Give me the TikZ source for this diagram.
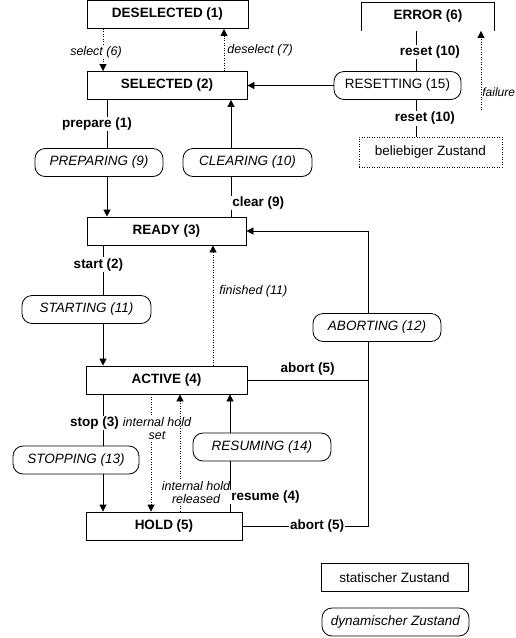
\documentclass[tikz,border=0pt]{standalone}
\usepackage{fontspec}
\setmainfont{Liberation Sans}
\usetikzlibrary{arrows.meta, positioning, calc}

\begin{document}
\begin{tikzpicture}[
    x=1pt, y=-1pt, line width=0.8pt,
    state/.style={draw, rectangle, minimum height=28pt, inner sep=0pt, font=\fontsize{13.5}{16}\selectfont\bfseries},
    dynstate/.style={draw, rectangle, rounded corners=10pt, minimum height=28pt, inner sep=0pt, font=\fontsize{13.5}{16}\selectfont\itshape},
    trans/.style={fill=white, inner sep=1pt, font=\fontsize{13.5}{16}\selectfont\bfseries},
    cond/.style={inner sep=1pt, align=center, font=\fontsize{12.5}{13}\selectfont\itshape},
    arrow/.style={-{Triangle[length=7pt,width=7pt]}},
    dotarrow/.style={arrow, dash pattern=on 1pt off 1.5pt}
]
\useasboundingbox (0,0) rectangle (515,638);
\node[state, minimum width=161pt] (desel) at (167.5,14.5) {DESELECTED (1)};
\node[state, minimum width=160pt] (sel) at (167,85.5) {SELECTED (2)};
\node[state, minimum width=159pt] (ready) at (166.5,231) {READY (3)};
\node[state, minimum width=161pt] (active) at (166.5,380) {ACTIVE (4)};
\node[state, minimum width=156pt] (hold) at (164,526) {HOLD (5)};
\node[state, minimum width=132pt, draw=none] (error) at (428,16.5) {ERROR (6)};
\draw (error.south west) -- (error.north west) -- (error.north east) -- (error.south east);
\node[dynstate, minimum width=128pt] (preparing) at (99,162.5) {PREPARING (9)};
\node[dynstate, minimum width=129pt] (clearing) at (247.5,162.5) {CLEARING (10)};
\node[dynstate, minimum width=127pt, font=\fontsize{13.5}{16}\selectfont] (resetting) at (397.5,85.5) {RESETTING (15)};
\node[dynstate, minimum width=129pt] (starting) at (86.5,309.5) {STARTING (11)};
\node[dynstate, minimum width=128pt] (aborting) at (377,327.5) {ABORTING (12)};
\node[dynstate, minimum width=126pt] (stopping) at (76,460) {STOPPING (13)};
\node[dynstate, minimum width=138pt] (resuming) at (262,447) {RESUMING (14)};
\node[draw, dash pattern=on 1pt off 1.5pt, minimum width=143pt, minimum height=30pt, inner sep=0pt, font=\fontsize{13.5}{16}\selectfont] (anystate) at (430.5,152) {beliebiger Zustand};
\node[state, minimum width=147pt, font=\fontsize{13.5}{16}\selectfont] (legstatic) at (394.5,577.5) {statischer Zustand};
\node[dynstate, minimum width=147pt] (legdynamic) at (395.5,622) {dynamischer Zustand};
\coordinate (colselect) at (103,0);
\coordinate (colprepare) at (107,0);
\coordinate (coldeselect) at (224,0);
\coordinate (colclear) at (231,0);
\coordinate (colfinished) at (213,0);
\coordinate (colholdset) at (151,0);
\coordinate (colholdrel) at (180,0);
\coordinate (colresume) at (230,0);
\coordinate (colreset) at (416,0);
\coordinate (colabort) at (368,0);
\coordinate (failtail) at (481,110);
\draw[dotarrow] (desel.south -| colselect) -- node[cond, fill=white, xshift=-7pt, yshift=-2pt]{select (6)} (sel.north -| colselect);
\draw[dotarrow] (sel.north -| coldeselect) -- node[cond, right, xshift=2pt]{deselect (7)} (desel.south -| coldeselect);
\draw[dotarrow] (failtail) -- node[cond, right, pos=0.22, inner sep=0pt, xshift=1pt, font=\fontsize{12}{13}\selectfont\itshape]{failure} (error.south -| failtail);
\draw[dotarrow] (active.north -| colfinished) -- node[cond, right, pos=0.62, xshift=5pt]{finished (11)} (ready.south -| colfinished);
\draw[dotarrow] (active.south -| colholdset) -- node[cond, fill=white, pos=0.29, xshift=6pt]{internal hold\\set} (hold.north -| colholdset);
\draw[dotarrow] (hold.north -| colholdrel) -- node[cond, fill=white, pos=0.16, xshift=16pt]{internal hold\\released} (active.south -| colholdrel);
\draw (error.south -| colreset) -- node[trans, xshift=14pt, yshift=-1pt]{reset (10)} (resetting.north -| colreset);
\draw (resetting.south -| colreset) -- node[trans, xshift=9pt]{reset (10)} (anystate.north -| colreset);
\draw[arrow] (resetting.west) -- (sel.east);
\draw (sel.south -| colprepare) -- node[trans, xshift=-10pt]{prepare (1)} (preparing.north -| colprepare);
\draw[arrow] (preparing.south -| colprepare) -- (ready.north -| colprepare);
\draw (ready.north -| colclear) -- node[trans, right, pos=0.34]{clear (9)} (clearing.south -| colclear);
\draw[arrow] (clearing.north -| colclear) -- (sel.south -| colclear);
\draw (ready.south -| colselect) -- node[trans, pos=0.39, xshift=-4.5pt]{start (2)} (starting.north -| colselect);
\draw[arrow] (starting.south -| colselect) -- (active.north -| colselect);
\draw[arrow] (aborting.north -| colabort) |- (ready.east);
\draw (active.east) -- node[trans, above, yshift=3pt]{abort (5)} (active.east -| colabort);
\draw (hold.east) -- node[trans, xshift=12pt]{abort (5)} (hold.east -| colabort) -- (aborting.south -| colabort);
\draw (active.south -| colselect) -- node[trans, xshift=-8.5pt, yshift=-3pt]{stop (3)} (stopping.north -| colselect);
\draw[arrow] (stopping.south -| colselect) -- (hold.north -| colselect);
\draw (hold.north -| colresume) -- node[trans, right, pos=0.29]{resume (4)} (resuming.south -| colresume);
\draw[arrow] (resuming.north -| colresume) -- (active.south -| colresume);
\end{tikzpicture}
\end{document}
